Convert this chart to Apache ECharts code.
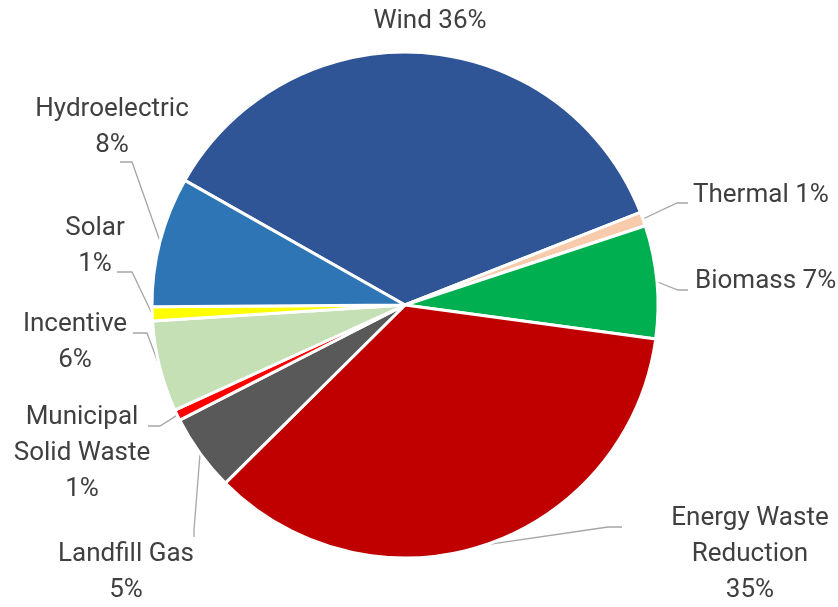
<!DOCTYPE html>
<html>
<head>
<meta charset="utf-8">
<script src="https://cdn.jsdelivr.net/npm/echarts@6/dist/echarts.min.js"></script>
<style>
  html, body { margin: 0; padding: 0; background: #ffffff; }
  #chart { width: 838px; height: 607px; }
</style>
</head>
<body>
<div id="chart"></div>
<script>
// ---- data ----
const categories = ['Wind', 'Thermal', 'Biomass', 'Energy Waste Reduction', 'Landfill Gas',
                    'Municipal Solid Waste', 'Incentive', 'Solar', 'Hydroelectric'];
const shares = [35.8, 0.9, 7.2, 35.4, 4.9, 0.7, 5.8, 0.9, 8.3];
const colors = ['#2F5597', '#F8CBAD', '#00B050', '#C00000', '#595959',
                '#FF0000', '#C5E0B4', '#FFFF00', '#2E75B6'];

// ---- label layout (text wrapping and placement only) ----
const labelText = ['Wind', 'Thermal', 'Biomass', 'Energy Waste\nReduction', 'Landfill Gas',
                   'Municipal\nSolid Waste', 'Incentive', 'Solar', 'Hydroelectric'];
const labelSep = [' ', ' ', ' ', '\n', '\n', '\n', '\n', '\n', '\n'];
const labelPos = [
  { x: 430, y: 21,  align: 'center', line: null },
  { x: 693, y: 195, align: 'left',   line: [[677, 203], [688, 203]] },
  { x: 695, y: 281, align: 'left',   line: [[678, 290], [688, 290]] },
  { x: 750, y: 554, align: 'center', line: [[608, 527], [622, 527]] },
  { x: 126, y: 572, align: 'center', line: [[194, 530], [194, 537]] },
  { x: 82,  y: 453, align: 'center', line: [[160, 426], [148, 426]] },
  { x: 75,  y: 342, align: 'center', line: [[147, 333], [133, 333]] },
  { x: 95,  y: 246, align: 'center', line: [[132, 272], [117, 272]] },
  { x: 112, y: 127, align: 'center', line: [[132, 162], [120, 162]] }
];

const chart = echarts.init(document.getElementById('chart'), null, { renderer: 'canvas' });

const seriesData = categories.map((name, i) => ({
  name: name,
  value: shares[i],
  itemStyle: { color: colors[i] },
  labelLine: { show: labelPos[i].line !== null }
}));

chart.setOption({
  backgroundColor: '#ffffff',
  animation: false,
  series: [{
    type: 'pie',
    center: [405, 305],
    radius: 253,
    startAngle: 150.5,
    clockwise: true,
    avoidLabelOverlap: false,
    minShowLabelAngle: 0,
    data: seriesData,
    itemStyle: { borderColor: '#ffffff', borderWidth: 3 },
    label: {
      show: true,
      position: 'outside',
      fontFamily: 'Roboto',
      fontSize: 26,
      lineHeight: 36,
      color: '#404040',
      formatter: function (p) {
        return labelText[p.dataIndex] + labelSep[p.dataIndex] + Math.round(p.percent) + '%';
      }
    },
    labelLine: {
      show: true,
      length: 15,
      length2: 10,
      lineStyle: { color: '#A6A6A6', width: 1.3 }
    },
    emphasis: { disabled: true },
    labelLayout: function (params) {
      const L = labelPos[params.dataIndex];
      const out = { x: L.x, y: L.y, align: L.align, verticalAlign: 'middle' };
      if (L.line && params.labelLinePoints) {
        out.labelLinePoints = [params.labelLinePoints[0], L.line[0], L.line[1]];
      }
      return out;
    }
  }]
});
</script>
</body>
</html>
